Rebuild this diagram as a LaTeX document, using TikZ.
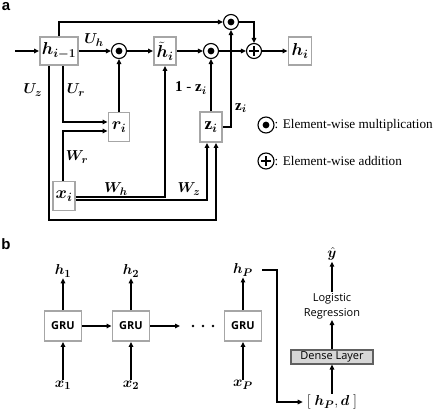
\documentclass[tikz,border=0pt]{standalone}
\usepackage{amsmath}
\usepackage{bm}
\usepackage{fontspec}
\setmainfont{Liberation Serif}
\setsansfont{Open Sans}
\newfontfamily\labfont{Liberation Sans}
\usetikzlibrary{arrows.meta}
\definecolor{boxgray}{HTML}{A6A6A6}
\definecolor{densefill}{HTML}{D6D6D6}
\definecolor{denseline}{HTML}{606060}
\begin{document}
\begin{tikzpicture}[x=1pt,y=-1pt,
  >={Triangle[length=5pt,width=4.5pt]},
  conn/.style={line width=1.4pt,->},
  gbox/.style={draw=boxgray,line width=1.8pt,fill=white,inner sep=0pt,minimum height=28pt,font=\fontsize{17}{20}\selectfont},
  mult/.style={circle,draw,line width=1.1pt,minimum size=15pt,inner sep=0pt,fill=white,
    path picture={\fill[black] (path picture bounding box.center) circle[radius=3.4pt];}},
  plus/.style={circle,draw,line width=1.1pt,minimum size=15pt,inner sep=0pt,fill=white,
    path picture={\draw[black,line width=1.1pt] ([xshift=-5pt]path picture bounding box.center) -- ([xshift=5pt]path picture bounding box.center) ([yshift=-5pt]path picture bounding box.center) -- ([yshift=5pt]path picture bounding box.center);}},
  elab/.style={inner sep=0pt,font=\fontsize{15}{17}\selectfont},
  panel/.style={inner sep=0pt,font=\labfont\bfseries\fontsize{15}{18}\selectfont},
  leg/.style={inner sep=0pt,anchor=west,font=\fontsize{13.2}{16}\selectfont},
  grubox/.style={draw=boxgray,line width=1.8pt,fill=white,inner sep=0pt,minimum width=37pt,minimum height=30pt,font=\sffamily\bfseries\fontsize{11}{13}\selectfont},
  blab/.style={inner sep=1pt,font=\fontsize{15}{17}\selectfont}
]
\useasboundingbox (0,0) rectangle (440,412);

% ---------- panel a ----------
\node[panel] (pa) at (6,7) {a};
\node[gbox,minimum width=38pt] (hprev) at (59,51) {$\bm{h_{i-1}}$};
\node[mult] (m1) at (119,51) {};
\node[gbox,minimum width=22pt] (ht) at (165,51) {$\bm{\tilde{h}_i}$};
\node[mult] (m2) at (211,51) {};
\node[plus] (pl) at (254,51) {};
\node[gbox,minimum width=23pt] (hi) at (300,51) {$\bm{h_i}$};
\node[mult] (m3) at (231,22) {};
\node[gbox,minimum width=21pt,minimum height=29pt] (ri) at (119,127) {$\bm{r_i}$};
\node[gbox,minimum width=22pt,minimum height=30pt] (zi) at (211,127) {$\mathbf{z}_{\bm{i}}$};
\node[gbox,minimum width=22pt,minimum height=29pt] (xi) at (64,196) {$\bm{x_i}$};
\coordinate (in) at (15,51);

\draw[conn] (in) -- (hprev.west);
\draw[conn] (hprev.east) -- (m1.west);
\draw[conn] (m1.east) -- (ht.west);
\draw[conn] (ht.east) -- (m2.west);
\draw[conn] (m2.east) -- (pl.west);
\draw[conn] (pl.east) -- (hi.west);
\draw[conn] (hprev.north) |- (m3.west);
\draw[conn] (m3.east) -| (pl.north);
\draw[conn] (ri.north) -- (m1.south);
\draw[conn] (zi.north) -- (m2.south);
\draw[conn] (zi.east) -| (m3.south);
\draw[conn] ([yshift=-1pt]xi.east) -| (ht.south);
\draw[conn] ([yshift=-4pt]xi.east) -| ([xshift=-4pt]zi.south);
\draw[conn] ([xshift=-10pt]hprev.south) -- ++(0,154) -| ([xshift=5pt]zi.south);
\draw[conn] ([xshift=4pt]hprev.south) |- ([yshift=5pt]ri.west);
\draw[conn] ([xshift=-1pt]xi.north) |- ([yshift=-4pt]ri.west);

\node[elab] (luh) at (94,40) {$\bm{U_h}$};
\node[elab] (luz) at (33,90) {$\bm{U_z}$};
\node[elab] (lur) at (76,90) {$\bm{U_r}$};
\node[elab] (lwr) at (77,157) {$\bm{W_r}$};
\node[elab] (lwh) at (116,189) {$\bm{W_h}$};
\node[elab] (lwz) at (189,189) {$\bm{W_z}$};
\node[elab] (lz) at (241,108) {$\mathbf{z}_{\bm{i}}$};
\node[elab] (l1z) at (191,88) {$\mathbf{1}$ - $\mathbf{z}_{\bm{i}}$};

\node[mult,minimum size=16pt] (legm) at (266,125) {};
\node[leg] (legmt) at (274.5,125) {: Element-wise multiplication};
\node[plus,minimum size=16pt] (legp) at (266,161) {};
\node[leg] (legpt) at (274.5,161) {: Element-wise addition};

% ---------- panel b ----------
\node[panel] (pb) at (6,244) {b};
\node[grubox] (g1) at (63,326) {GRU};
\node[grubox] (g2) at (131,326) {GRU};
\node[grubox] (g3) at (243,326) {GRU};
\node[blab] (h1) at (63,271) {$\bm{h_1}$};
\node[blab] (h2) at (131,271) {$\bm{h_2}$};
\node[blab] (hp) at (243,270) {$\bm{h_P}$};
\node[blab] (x1) at (63,385) {$\bm{x_1}$};
\node[blab] (x2) at (131,385) {$\bm{x_2}$};
\node[blab] (xp) at (243,385) {$\bm{x_P}$};
\foreach \g/\h/\x in {g1/h1/x1,g2/h2/x2,g3/hp/xp}{
  \draw[conn] ([yshift=-0.5pt]\x.north) -- (\g.south);
  \draw[conn] (\g.north) -- (\h.south);
}
\draw[conn] (g1.east) -- (g2.west);
\coordinate (dend) at (180,326);
\draw[conn] (g2.east) -- (dend);
\foreach \dx in {193,203,213}{\fill (\dx,326) circle[radius=1.4pt];}

\node[blab] (hpd) at (332,402) {$[\ \bm{h_P},\bm{d}\ ]$};
\node[draw=denseline,line width=1.1pt,fill=densefill,minimum width=82pt,minimum height=14pt,inner sep=0pt,font=\sffamily\fontsize{11}{12}\selectfont] (dense) at (332,357) {Dense Layer};
\node[align=center,inner sep=1pt,font=\sffamily\fontsize{11}{15}\selectfont] (lr) at (332,306) {Logistic\\Regression};
\node[blab] (yhat) at (332,254) {$\bm{\hat{y}}$};
\coordinate (hpstart) at (262,270);
\draw[conn] (hpstart) -- (277,270) |- ([xshift=-3pt]hpd.west);
\draw[conn] (hpd.north) -- (dense.south);
\draw[conn] (dense.north) -- (lr.south);
\draw[conn] (lr.north) -- (yhat.south);
\end{tikzpicture}
\end{document}
